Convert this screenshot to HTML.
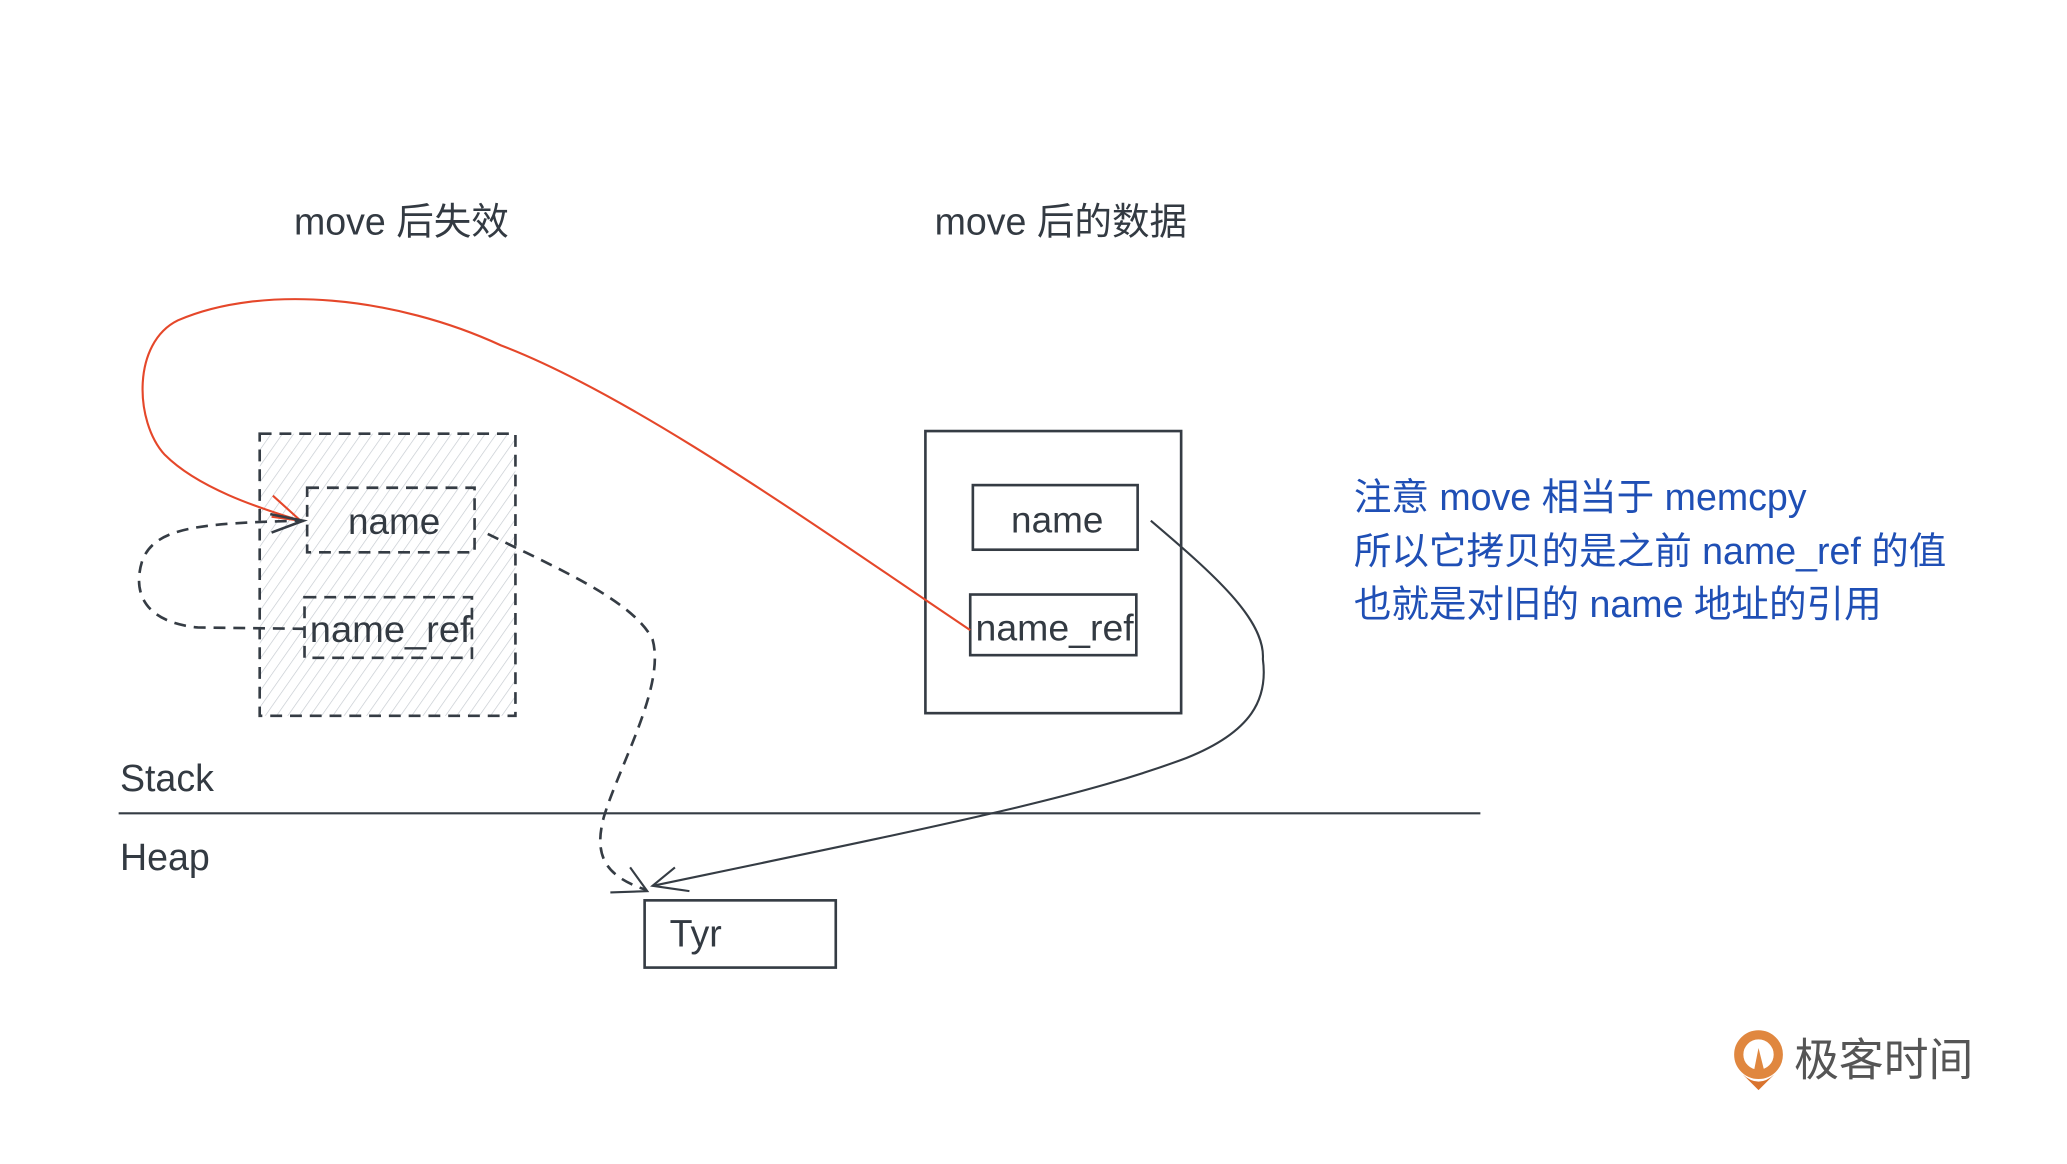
<!DOCTYPE html>
<html><head><meta charset="utf-8"><style>
html,body{margin:0;padding:0;background:#fff;}
svg{display:block;}
text{font-family:"Liberation Sans","Noto Sans CJK SC",sans-serif;}
</style></head><body>
<svg width="2067" height="1164" viewBox="0 0 1568 883" xmlns="http://www.w3.org/2000/svg">
<defs>
<pattern id="hatch" width="7" height="7" patternUnits="userSpaceOnUse" patternTransform="rotate(35)">
<line x1="0" y1="0" x2="0" y2="7" stroke="#c4c9cf" stroke-width="1"/>
</pattern>
</defs>
<rect width="1568" height="883" fill="#fff"/>
<text x="223" y="178" font-size="28.5" fill="#333a42">move 后失效</text>
<text x="709" y="178" font-size="28.5" fill="#333a42">move 后的数据</text>

<rect x="197" y="329" width="194" height="214" fill="url(#hatch)" stroke="#353c44" stroke-width="2" stroke-dasharray="9,6"/>
<rect x="233" y="370" width="127" height="49" fill="none" stroke="#353c44" stroke-width="2" stroke-dasharray="9,6"/>
<text x="299" y="405" font-size="28" fill="#333a42" text-anchor="middle">name</text>
<rect x="231" y="453" width="127" height="46" fill="none" stroke="#353c44" stroke-width="2" stroke-dasharray="9,6"/>
<text x="235" y="487" font-size="28" fill="#333a42" textLength="122" lengthAdjust="spacingAndGlyphs">name_ref</text>

<rect x="702" y="327" width="194" height="214" fill="none" stroke="#353c44" stroke-width="2"/>
<rect x="738" y="368" width="125" height="49" fill="#fff" stroke="#353c44" stroke-width="2"/>
<text x="802" y="404" font-size="28" fill="#333a42" text-anchor="middle">name</text>
<rect x="736" y="451" width="126" height="46" fill="#fff" stroke="#353c44" stroke-width="2"/>
<text x="740" y="486" font-size="28" fill="#333a42" textLength="120" lengthAdjust="spacingAndGlyphs">name_ref</text>

<text x="91" y="600" font-size="28.5" fill="#333a42">Stack</text>
<line x1="90" y1="617" x2="1123" y2="617" stroke="#353c44" stroke-width="1.6"/>
<text x="91" y="660" font-size="28.5" fill="#333a42">Heap</text>
<rect x="489" y="683" width="145" height="51" fill="none" stroke="#353c44" stroke-width="2"/>
<text x="508" y="718" font-size="28.5" fill="#333a42">Tyr</text>

<path d="M736,478 C620,400 480,300 380,262 C300,225 200,215 135,243 C100,260 102,320 125,345 C150,370 195,385 228,395" fill="none" stroke="#e5472a" stroke-width="1.6"/>
<path d="M207,376 L228,395 L206,392" fill="none" stroke="#e5472a" stroke-width="1.6"/>

<path d="M231,477 L150,476 C110,472 100,450 108,425 C118,400 150,397 228,395" fill="none" stroke="#353c44" stroke-width="2" stroke-dasharray="9,6"/>
<path d="M206,404 L230,395 L205,390" fill="none" stroke="#353c44" stroke-width="2"/>

<path d="M370,405 C420,430 480,455 495,485 C505,520 470,580 458,620 C450,650 460,665 490,675" fill="none" stroke="#353c44" stroke-width="2" stroke-dasharray="9,6"/>
<path d="M463,677 L491,676 L478,658" fill="none" stroke="#353c44" stroke-width="1.6"/>

<path d="M873,395 C920,435 960,470 958,500 C962,530 950,555 900,575 C820,605 720,625 495,672" fill="none" stroke="#353c44" stroke-width="1.6"/>
<path d="M512,658 L495,672 L523,676" fill="none" stroke="#353c44" stroke-width="1.6"/>

<text x="1027" y="387" font-size="28.5" fill="#1f4fb5">注意 move 相当于 memcpy</text>
<text x="1027" y="428" font-size="28.5" fill="#1f4fb5">所以它拷贝的是之前 name_ref 的值</text>
<text x="1027" y="468" font-size="28.5" fill="#1f4fb5">也就是对旧的 name 地址的引用</text>

<circle cx="1334" cy="800" r="15" fill="none" stroke="#e0873f" stroke-width="7"/>
<path d="M1322,815 Q1334,826 1346,815 L1334,827 Z" fill="#d9742e"/>
<path d="M1334,795 L1330,815 L1339,815 Z" fill="#e0873f"/>
<text x="1361" y="816" font-size="34" fill="#555">极客时间</text>
</svg>
</body></html>
